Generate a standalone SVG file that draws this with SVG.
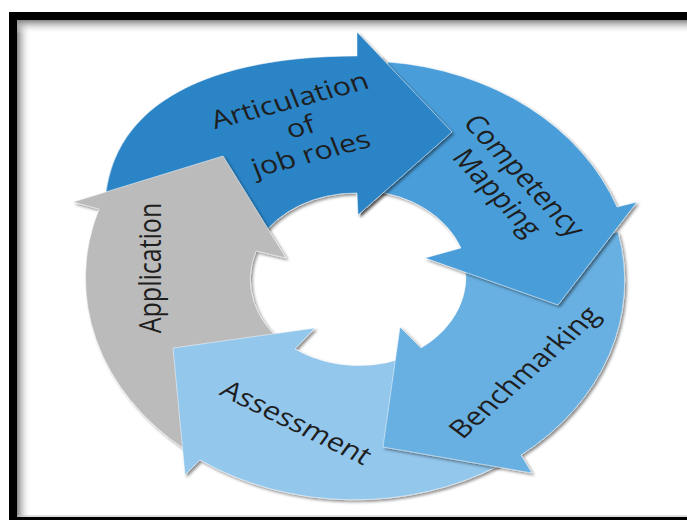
<svg xmlns="http://www.w3.org/2000/svg" xmlns:xlink="http://www.w3.org/1999/xlink" width="687" height="520" viewBox="0 0 687 520">
<defs>
  <filter id="sh" x="-15%" y="-15%" width="140%" height="140%">
    <feDropShadow dx="2" dy="2" stdDeviation="1.6" flood-color="#000" flood-opacity="0.45"/>
  </filter>
  <linearGradient id="gl" x1="0" y1="0" x2="1" y2="0">
    <stop offset="0" stop-color="#858585"/>
    <stop offset="1" stop-color="#ffffff" stop-opacity="0"/>
  </linearGradient>
  <linearGradient id="gt" x1="0" y1="0" x2="0" y2="1">
    <stop offset="0" stop-color="#858585"/>
    <stop offset="1" stop-color="#ffffff" stop-opacity="0"/>
  </linearGradient>
  <clipPath id="clipA">
    <polygon points="388,20 480,20 480,240 357,240"/>
  </clipPath>
</defs>
<style>
  .seg{filter:url(#sh);stroke:#ffffff;stroke-opacity:0.55;stroke-width:0.9;stroke-linejoin:miter}
  .lbl{font-family:"Open Sans","DejaVu Sans",sans-serif;font-size:25px;fill:#1e1e1e;text-anchor:middle}
</style>
<rect width="687" height="520" fill="#ffffff"/>
<g id="frame">
  <rect x="17" y="20" width="14" height="497" fill="url(#gl)"/>
  <rect x="17" y="20" width="670" height="14" fill="url(#gt)"/>
  <line x1="17" y1="516" x2="687" y2="516" stroke="#bdbdbd" stroke-width="1"/>
  <rect x="13" y="16" width="700" height="505" fill="none" stroke="#000" stroke-width="8"/>
</g>
<g id="connectors"></g>
<g id="node-articulation">
  <path class="seg" fill="#2A84C6" d="M 105,205 C 110,100 215,56 357,56 L 357,32 L 452,132 L 358,215 L 357,193 A 109 88 0 0 0 259,240 Z"/>
  <text class="lbl" transform="translate(293,108.5) scale(1.22,1) rotate(-18)"><tspan x="0" y="0">Articulation</tspan><tspan x="0" y="28">of</tspan><tspan x="0" y="56">job roles</tspan></text>
</g>
<g id="node-application">
  <path class="seg" fill="#BBBBBB" d="M 185,449.5 A 270 221 0 0 1 99,209 L 73,202 L 223,156 L 286,258 L 256,251 A 109 88 0 0 0 288,346 Z"/>
  <text class="lbl" transform="translate(161,268) scale(1.22,1) rotate(-90)">Application</text>
</g>
<g id="node-assessment">
  <path class="seg" fill="#93C7EC" d="M 500,465 A 270 221 0 0 1 200,460 L 185,475 L 173,348 L 315,328 L 295,349 A 109 88 0 0 0 415,353 Z"/>
  <text class="lbl" transform="translate(291,430) scale(1.22,1) rotate(30.9)">Assessment</text>
</g>
<g id="node-benchmarking">
  <path class="seg" fill="#67B0E2" d="M 618,232 A 270 221 0 0 1 521,455 L 532,473 L 383,447 L 400,327 L 421,348 A 109 88 0 0 0 464,260 Z"/>
  <text class="lbl" transform="translate(532,378) scale(1.22,1) rotate(-47.4)">Benchmarking</text>
</g>
<g id="node-competency">
  <path class="seg" fill="#4A9EDA" d="M 388,62 A 270 221 0 0 1 617,207 L 637,202 L 558,305 L 425,258 L 461,248 A 109 88 0 0 0 370,191 Z"/>
  <text class="lbl" transform="translate(516,181) scale(1.22,1) rotate(52.6)"><tspan x="0" y="0">Competency</tspan><tspan x="0" y="28">Mapping</tspan></text>
</g>
<use id="articulation-head-overlay" href="#node-articulation" xlink:href="#node-articulation" clip-path="url(#clipA)"/>
</svg>
